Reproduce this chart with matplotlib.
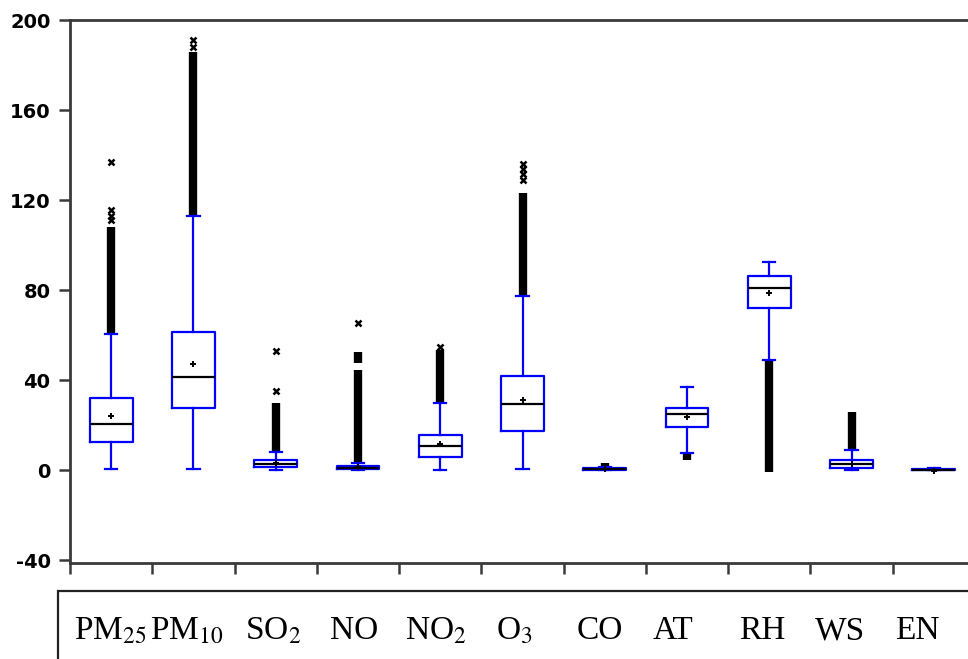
import matplotlib
matplotlib.use('Agg')
import matplotlib.pyplot as plt
from matplotlib.patches import Rectangle
import numpy as np

# box statistics
cats = ['PM$_{25}$', 'PM$_{10}$', 'SO$_{2}$', 'NO', 'NO$_{2}$', 'O$_{3}$', 'CO', 'AT', 'RH', 'WS', 'EN']
q1 = [12.3, 27.4, 1.5, 0.5, 5.9, 17.5, 0.2, 19.3, 71.9, 0.7, 0.0]
med = [20.3, 41.5, 2.8, 1.0, 10.7, 29.2, 0.4, 24.9, 80.7, 2.5, 0.2]
q3 = [32.0, 61.2, 4.3, 1.6, 15.8, 41.6, 0.7, 27.4, 86.2, 4.4, 0.5]
mean = [24.1, 47.0, 3.1, 1.5, 11.4, 31.1, 0.5, 23.7, 78.8, 2.9, -0.6]
whislo = [0.6, 0.6, 0.0, 0.0, 0.0, 0.6, 0.0, 7.7, 48.9, 0.0, 0.0]
whishi = [60.4, 112.9, 7.9, 3.3, 29.9, 77.3, 1.2, 37.0, 92.3, 8.9, 0.8]

# dense runs of outliers (drawn as solid black columns)
band_cat = [0, 1, 2, 3, 3, 4, 5, 6, 7, 8, 9]
band_lo = [60.4, 112.9, 7.9, 3.3, 47.4, 29.9, 77.3, 1.2, 4.4, -1.0, 8.9]
band_hi = [108.0, 186.0, 29.6, 44.4, 52.6, 53.5, 123.0, 3.3, 7.7, 48.9, 25.9]

# separate outliers
flier_cat = [0, 0, 0, 0, 1, 1, 2, 2, 3, 4, 5, 5, 5, 5]
flier_val = [111, 113, 115.5, 137, 188, 191, 35.3, 52.8, 65.2, 54.5, 129, 131.5, 134, 136]

ytick_vals = [-40, 0, 40, 80, 120, 160, 200]

fig = plt.figure(figsize=(9.68, 6.59), dpi=100, facecolor='white')
ax = fig.add_axes([70/968, 1-563/659, 905/968, 543/659])

pos = np.arange(1, len(cats)+1)
stats = []
for i in range(len(cats)):
    stats.append(dict(med=med[i], q1=q1[i], q3=q3[i], mean=mean[i],
                      whislo=whislo[i], whishi=whishi[i],
                      fliers=[v for c, v in zip(flier_cat, flier_val) if c == i]))

ax.vlines([pos[c] for c in band_cat], band_lo, band_hi, color='black', lw=6, zorder=1.5)

blue = '#0000ff'
ax.bxp(stats, positions=pos, widths=0.52, capwidths=0.15, showmeans=True,
       boxprops=dict(color=blue, lw=1.6),
       whiskerprops=dict(color=blue, lw=1.6),
       capprops=dict(color=blue, lw=1.6),
       medianprops=dict(color='black', lw=1.6),
       meanprops=dict(marker='+', markeredgecolor='black', markersize=5, markeredgewidth=1.4),
       flierprops=dict(marker='x', markeredgecolor='black', markersize=4, markeredgewidth=1.8))

ax.set_xlim(0.5, 11.5)
ax.set_ylim(-41.3, 200)
ax.set_xticks(np.arange(0.5, 12, 1))
ax.set_xticklabels([])
ax.set_yticks(ytick_vals)
ax.set_yticklabels([str(v) for v in ytick_vals], fontweight='bold', fontsize=14, family='DejaVu Sans')
ax.tick_params(direction='out', length=8, width=1.8, color='#3a3a3a', pad=6)
for s in ax.spines.values():
    s.set_color('#3a3a3a')
    s.set_linewidth(2)

# label box under the chart
fig.add_artist(Rectangle((58/968, -0.2), 1.0, 0.2 + 1-590.5/659, fill=False,
                         edgecolor='#222222', lw=1.6, transform=fig.transFigure))
plt.rcParams['mathtext.fontset'] = 'stix'
label_x = [110, 187, 273, 354, 436, 514, 600, 673, 762, 840, 917]
for lx, c in zip(label_x, cats):
    fig.text(lx/968, 1-639/659, c, ha='center', va='baseline', fontsize=24,
             family='Liberation Serif')

fig.savefig('out.png', dpi=100)
